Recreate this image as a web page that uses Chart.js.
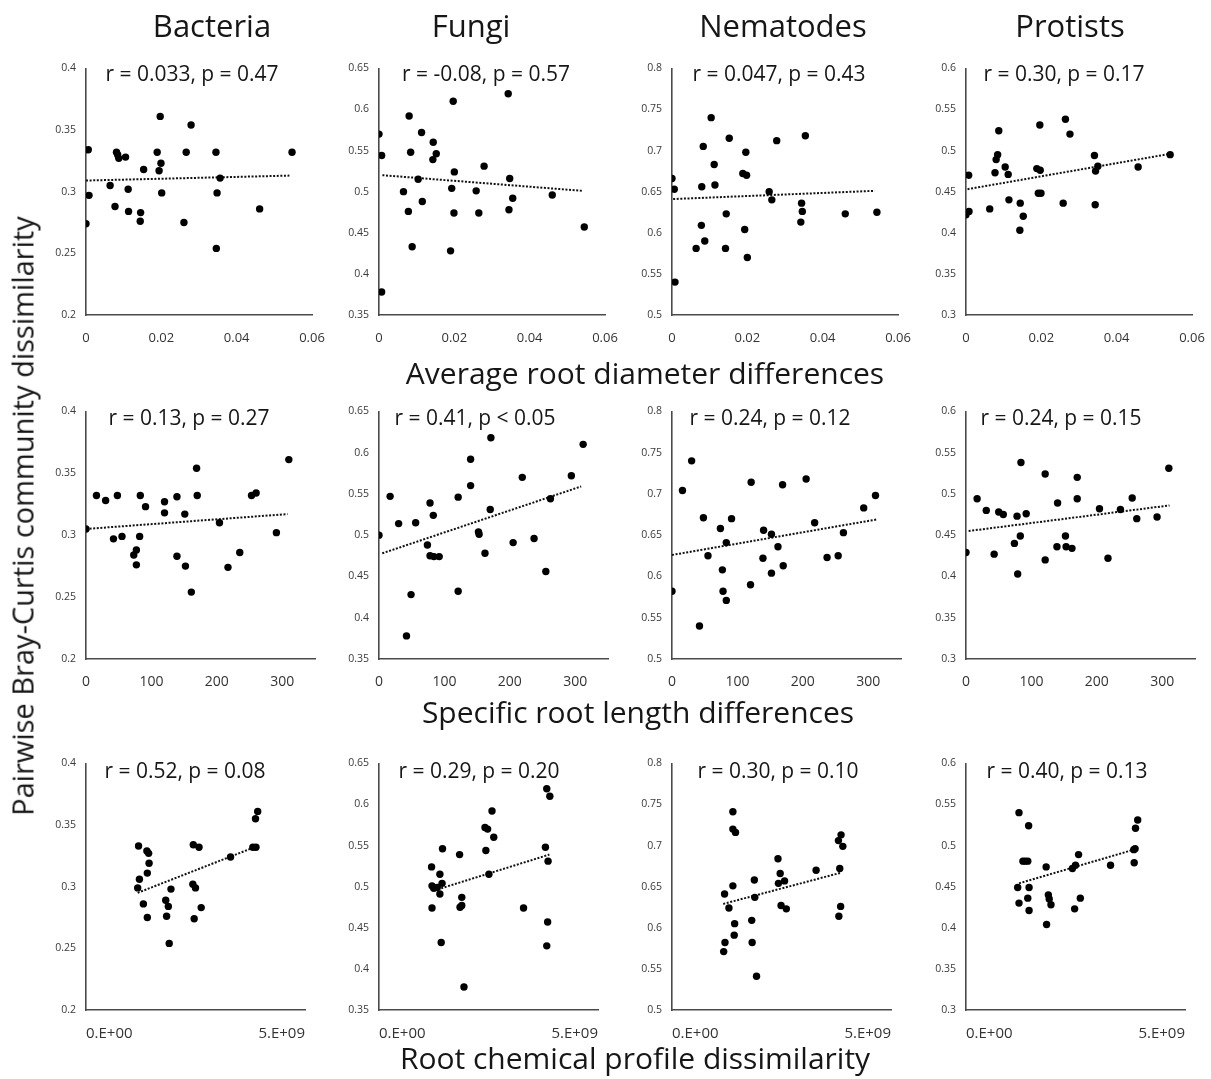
<!DOCTYPE html>
<html>
<head>
<meta charset="utf-8">
<title>Root traits vs community dissimilarity</title>
<script src="https://cdn.jsdelivr.net/npm/chart.js@4.4.1/dist/chart.umd.min.js"></script>
<style>
  body { margin: 0; background: #fff; }
  #fig { position: relative; width: 1211px; height: 1079px; overflow: hidden; font-family: "Open Sans", sans-serif; color: #161616; }
  #fig canvas { position: absolute; }
  .lbl { position: absolute; white-space: nowrap; transform: translate(-50%, -50%); line-height: 1; }
  .head { font-size: 31px; }
  .axis-title { font-size: 30px; }
  .stat { font-size: 21px; }
  .ylab { font-size: 29px; transform: translate(-50%, -50%) rotate(-90deg); }
</style>
</head>
<body>
<div id="fig"></div>
<script>
// organism groups (columns) and root traits (rows)
var groups = ["Bacteria", "Fungi", "Nematodes", "Protists"];
var traits = ["Average root diameter differences", "Specific root length differences", "Root chemical profile dissimilarity"];
var yTitle = "Pairwise Bray-Curtis community dissimilarity";

// y ticks per group
var bacteriaTicks = [0.2, 0.25, 0.3, 0.35, 0.4];
var fungiTicks = [0.35, 0.4, 0.45, 0.5, 0.55, 0.6, 0.65];
var nematodesTicks = [0.5, 0.55, 0.6, 0.65, 0.7, 0.75, 0.8];
var protistsTicks = [0.3, 0.35, 0.4, 0.45, 0.5, 0.55, 0.6];

// x ticks per trait
var diamTicks = [0, 0.02, 0.04, 0.06];
var diamTickLabels = ["0", "0.02", "0.04", "0.06"];
var srlTicks = [0, 100, 200, 300];
var srlTickLabels = ["0", "100", "200", "300"];
var chemTicks = [0, 5e9];
var chemTickLabels = ["0.E+00", "5.E+09"];

// average root diameter differences
var diamBacteriaX = [0.0006, 0.0008, 0, 0.0081, 0.0084, 0.0087, 0.0105, 0.0064, 0.0077, 0.0112, 0.0113, 0.0145, 0.0144, 0.0153, 0.0189, 0.0197, 0.0199, 0.0194, 0.0201, 0.0266, 0.0279, 0.026, 0.0345, 0.0356, 0.0348, 0.0346, 0.0461, 0.0547];
var diamBacteriaY = [0.334, 0.297, 0.274, 0.332, 0.330, 0.327, 0.328, 0.305, 0.288, 0.302, 0.284, 0.283, 0.276, 0.318, 0.332, 0.361, 0.323, 0.317, 0.299, 0.332, 0.354, 0.275, 0.332, 0.311, 0.299, 0.254, 0.286, 0.332];
var diamFungiX = [0, 0.0007, 0.0007, 0.008, 0.0113, 0.0084, 0.0144, 0.0152, 0.0143, 0.0104, 0.0065, 0.0115, 0.0078, 0.0088, 0.0197, 0.02, 0.0193, 0.0199, 0.019, 0.0279, 0.0258, 0.0265, 0.0343, 0.0347, 0.0355, 0.0345, 0.046, 0.0545];
var diamFungiY = [0.570, 0.544, 0.378, 0.592, 0.572, 0.548, 0.560, 0.546, 0.539, 0.515, 0.500, 0.488, 0.476, 0.433, 0.610, 0.524, 0.504, 0.474, 0.428, 0.531, 0.501, 0.474, 0.619, 0.516, 0.492, 0.478, 0.496, 0.457];
var diamNematodesX = [0, 0.0006, 0.0008, 0.0104, 0.0083, 0.0112, 0.0079, 0.0114, 0.0078, 0.0087, 0.0064, 0.0152, 0.0144, 0.0142, 0.0196, 0.0188, 0.0198, 0.0193, 0.02, 0.0278, 0.0258, 0.0265, 0.0354, 0.0344, 0.0346, 0.0342, 0.046, 0.0544];
var diamNematodesY = [0.666, 0.653, 0.540, 0.740, 0.705, 0.683, 0.656, 0.658, 0.609, 0.590, 0.581, 0.715, 0.623, 0.581, 0.698, 0.672, 0.670, 0.604, 0.570, 0.712, 0.650, 0.640, 0.718, 0.636, 0.626, 0.613, 0.623, 0.625];
var diamProtistsX = [0, 0.0008, 0.0007, 0.0063, 0.0087, 0.0084, 0.008, 0.0077, 0.0104, 0.0112, 0.0114, 0.0144, 0.0152, 0.0143, 0.0196, 0.0188, 0.0197, 0.0192, 0.0199, 0.0264, 0.0276, 0.0258, 0.0341, 0.035, 0.0344, 0.0343, 0.0457, 0.0542];
var diamProtistsY = [0.422, 0.426, 0.470, 0.429, 0.524, 0.495, 0.489, 0.473, 0.480, 0.471, 0.440, 0.436, 0.420, 0.403, 0.531, 0.478, 0.476, 0.448, 0.448, 0.538, 0.520, 0.436, 0.494, 0.481, 0.475, 0.434, 0.480, 0.495];
// trend line ends: x1, y1, x2, y2
var diamFits = [[0, 0.309, 0.054, 0.313], [0.0009, 0.520, 0.054, 0.501], [0.0003, 0.641, 0.0538, 0.651], [0.0004, 0.453, 0.0542, 0.496]];
var diamStats = ["r = 0.033, p = 0.47", "r = -0.08, p = 0.57", "r = 0.047, p = 0.43", "r = 0.30, p = 0.17"];

// specific root length differences
var srlBacteriaX = [0, 16, 30, 48, 42, 55, 83, 91, 82, 77, 73, 77, 120, 120, 139, 151, 139, 152, 161, 169, 170, 204, 217, 235, 253, 260, 291, 310];
var srlBacteriaY = [0.305, 0.332, 0.328, 0.332, 0.297, 0.299, 0.332, 0.323, 0.299, 0.288, 0.284, 0.276, 0.327, 0.318, 0.331, 0.317, 0.283, 0.275, 0.254, 0.354, 0.332, 0.310, 0.274, 0.286, 0.332, 0.334, 0.302, 0.361];
var srlFungiX = [0, 17, 30, 56, 49, 42, 78, 83, 74, 78, 84, 92, 121, 121, 140, 140, 152, 153, 162, 171, 170, 205, 219, 237, 255, 262, 294, 312];
var srlFungiY = [0.500, 0.547, 0.514, 0.515, 0.428, 0.378, 0.539, 0.524, 0.488, 0.475, 0.474, 0.474, 0.546, 0.432, 0.560, 0.592, 0.504, 0.501, 0.478, 0.618, 0.531, 0.491, 0.570, 0.496, 0.456, 0.544, 0.572, 0.610];
var srlNematodesX = [0, 16, 30, 48, 42, 55, 74, 83, 91, 77, 78, 83, 121, 120, 140, 139, 152, 152, 162, 169, 170, 205, 218, 237, 254, 262, 293, 311];
var srlNematodesY = [0.582, 0.704, 0.740, 0.671, 0.540, 0.625, 0.658, 0.641, 0.670, 0.608, 0.582, 0.571, 0.714, 0.590, 0.656, 0.622, 0.651, 0.604, 0.636, 0.711, 0.613, 0.718, 0.665, 0.623, 0.625, 0.653, 0.683, 0.698];
var srlProtistsX = [0, 17, 31, 50, 57, 43, 78, 92, 84, 83, 74, 79, 121, 121, 140, 139, 152, 153, 162, 170, 170, 204, 217, 236, 254, 261, 292, 310];
var srlProtistsY = [0.429, 0.494, 0.480, 0.478, 0.475, 0.427, 0.473, 0.476, 0.538, 0.449, 0.440, 0.403, 0.524, 0.420, 0.489, 0.436, 0.449, 0.436, 0.434, 0.520, 0.494, 0.482, 0.422, 0.481, 0.495, 0.470, 0.472, 0.531];
var srlFits = [[0, 0.305, 308, 0.317], [5, 0.478, 309, 0.559], [0, 0.626, 313, 0.669], [4, 0.455, 311, 0.486]];
var srlStats = ["r = 0.13, p = 0.27", "r = 0.41, p < 0.05", "r = 0.24, p = 0.12", "r = 0.24, p = 0.15"];

// root chemical profile dissimilarity
var chemBacteriaX = [1.20e9, 1.22e9, 1.18e9, 1.31e9, 1.40e9, 1.39e9, 1.43e9, 1.44e9, 1.40e9, 1.94e9, 1.82e9, 1.88e9, 1.84e9, 1.90e9, 2.45e9, 2.58e9, 2.44e9, 2.50e9, 2.63e9, 2.47e9, 3.30e9, 3.81e9, 3.88e9, 3.87e9, 3.92e9];
var chemBacteriaY = [0.333, 0.306, 0.299, 0.286, 0.275, 0.329, 0.327, 0.319, 0.311, 0.298, 0.289, 0.284, 0.276, 0.254, 0.334, 0.332, 0.302, 0.299, 0.283, 0.274, 0.324, 0.332, 0.332, 0.355, 0.361];
var chemFungiX = [1.20e9, 1.21e9, 1.25e9, 1.21e9, 1.39e9, 1.44e9, 1.39e9, 1.33e9, 1.45e9, 1.42e9, 1.84e9, 1.89e9, 1.85e9, 1.89e9, 1.94e9, 2.42e9, 2.48e9, 2.58e9, 2.62e9, 2.44e9, 2.51e9, 3.30e9, 3.83e9, 3.90e9, 3.80e9, 3.86e9, 3.85e9, 3.83e9];
var chemFungiY = [0.524, 0.501, 0.498, 0.474, 0.515, 0.504, 0.491, 0.499, 0.546, 0.432, 0.539, 0.487, 0.475, 0.477, 0.378, 0.572, 0.570, 0.592, 0.560, 0.544, 0.515, 0.474, 0.619, 0.610, 0.548, 0.531, 0.457, 0.428];
var chemNematodesX = [1.20e9, 1.30e9, 1.43e9, 1.42e9, 1.21e9, 1.18e9, 1.39e9, 1.39e9, 1.45e9, 1.39e9, 1.88e9, 1.89e9, 1.82e9, 1.83e9, 1.93e9, 2.42e9, 2.47e9, 2.43e9, 2.57e9, 2.49e9, 2.61e9, 3.29e9, 3.86e9, 3.80e9, 3.90e9, 3.83e9, 3.85e9, 3.81e9];
var chemNematodesY = [0.641, 0.624, 0.605, 0.591, 0.582, 0.571, 0.741, 0.720, 0.716, 0.651, 0.658, 0.637, 0.609, 0.582, 0.541, 0.684, 0.666, 0.654, 0.657, 0.627, 0.623, 0.670, 0.713, 0.706, 0.699, 0.672, 0.626, 0.614];
var chemProtistsX = [1.21e9, 1.43e9, 1.30e9, 1.41e9, 1.35e9, 1.18e9, 1.44e9, 1.21e9, 1.41e9, 1.44e9, 1.83e9, 1.88e9, 1.90e9, 1.94e9, 1.84e9, 2.43e9, 2.50e9, 2.57e9, 2.48e9, 2.61e9, 3.30e9, 3.83e9, 3.86e9, 3.87e9, 3.92e9, 3.84e9];
var chemProtistsY = [0.540, 0.524, 0.481, 0.481, 0.481, 0.449, 0.449, 0.430, 0.436, 0.421, 0.474, 0.440, 0.435, 0.428, 0.404, 0.472, 0.476, 0.489, 0.423, 0.436, 0.476, 0.495, 0.496, 0.521, 0.531, 0.479];
var chemFits = [[1.18e9, 0.295, 3.85e9, 0.332], [1.42e9, 0.498, 3.89e9, 0.539], [1.17e9, 0.629, 3.86e9, 0.667], [1.21e9, 0.454, 3.83e9, 0.495]];
var chemStats = ["r = 0.52, p = 0.08", "r = 0.29, p = 0.20", "r = 0.30, p = 0.10", "r = 0.40, p = 0.13"];

var yTicks = [bacteriaTicks, fungiTicks, nematodesTicks, protistsTicks];
var rows = [
  { xs: [diamBacteriaX, diamFungiX, diamNematodesX, diamProtistsX],
    ys: [diamBacteriaY, diamFungiY, diamNematodesY, diamProtistsY],
    fits: diamFits, stats: diamStats, ticks: diamTicks, tickLabels: diamTickLabels, max: 0.06 },
  { xs: [srlBacteriaX, srlFungiX, srlNematodesX, srlProtistsX],
    ys: [srlBacteriaY, srlFungiY, srlNematodesY, srlProtistsY],
    fits: srlFits, stats: srlStats, ticks: srlTicks, tickLabels: srlTickLabels, max: 350 },
  { xs: [chemBacteriaX, chemFungiX, chemNematodesX, chemProtistsX],
    ys: [chemBacteriaY, chemFungiY, chemNematodesY, chemProtistsY],
    fits: chemFits, stats: chemStats, ticks: chemTicks, tickLabels: chemTickLabels, max: 5e9 }
];

// page layout
var colLeft = [86, 379, 672, 966];
var rowLayout = [
  { top: 66, height: 249, width: 226, tickSize: 13, align: "center", titleY: 373, statY: 73 },
  { top: 409, height: 250, width: 229, tickSize: 14, align: "center", titleY: 712, statY: 417 },
  { top: 761, height: 249, width: 219, tickSize: 15, align: "inner", titleY: 1058, statY: 770 }
];
var statX = [[192, 486, 779, 1064], [189, 475, 770, 1061], [185, 479, 778, 1067]];
var headX = [212, 471, 783, 1070];
var traitX = [645, 638, 635];

Chart.defaults.font.family = '"Open Sans", sans-serif';

var fig = document.getElementById("fig");

function addText(cls, text, x, y) {
  var d = document.createElement("div");
  d.className = "lbl " + cls;
  d.textContent = text;
  d.style.left = x + "px";
  d.style.top = y + "px";
  fig.appendChild(d);
}

function addPanel(r, c) {
  var row = rows[r], lay = rowLayout[r], yt = yTicks[c], fit = row.fits[c];
  var padL = 60, padT = 14, padR = 34, padB = 46;

  var canvas = document.createElement("canvas");
  canvas.width = padL + lay.width + padR;
  canvas.height = padT + lay.height + padB;
  canvas.style.left = (colLeft[c] - padL) + "px";
  canvas.style.top = (lay.top - padT) + "px";
  fig.appendChild(canvas);

  var pts = row.xs[c].map(function (x, i) {
    return { x: x, y: row.ys[c][i] };
  });

  new Chart(canvas, {
    type: "scatter",
    data: {
      datasets: [
        {
          data: pts,
          backgroundColor: "#000",
          borderWidth: 0,
          pointRadius: 3.7,
          pointHoverRadius: 3.7,
        },
        {
          data: [{ x: fit[0], y: fit[1] }, { x: fit[2], y: fit[3] }],
          showLine: true,
          pointRadius: 0,
          borderColor: "#111",
          borderWidth: 2,
          borderDash: [2, 1.6],
        },
      ],
    },
    options: {
      responsive: false,
      animation: false,
      events: [],
      layout: { padding: { top: padT, right: padR, bottom: 0, left: 0 } },
      plugins: { legend: { display: false }, tooltip: { enabled: false } },
      scales: {
        x: {
          type: "linear",
          min: 0,
          max: row.max,
          afterBuildTicks: function (s) {
            s.ticks = row.ticks.map(function (v) { return { value: v }; });
          },
          afterFit: function (s) { s.height = padB; },
          grid: { display: false, drawTicks: false },
          border: { color: "#4a4a4a", width: 1.6 },
          ticks: {
            padding: 15,
            color: "#333",
            font: { size: lay.tickSize },
            align: lay.align,
            maxRotation: 0,
            autoSkip: false,
            callback: function (v, i) { return row.tickLabels[i]; },
          },
        },
        y: {
          min: yt[0],
          max: yt[yt.length - 1],
          afterBuildTicks: function (s) {
            s.ticks = yt.map(function (v) { return { value: v }; });
          },
          afterFit: function (s) { s.width = padL; },
          grid: { display: false, drawTicks: false },
          border: { color: "#4a4a4a", width: 1.6 },
          ticks: {
            padding: 10,
            color: "#3a3a3a",
            font: { size: 10.5 },
            autoSkip: false,
            callback: function (v) { return String(+v.toFixed(2)); },
          },
        },
      },
    },
  });

  addText("stat", row.stats[c], statX[r][c], lay.statY);
}

for (var r = 0; r < rows.length; r++) {
  for (var c = 0; c < groups.length; c++) {
    addPanel(r, c);
  }
  addText("axis-title", traits[r], traitX[r], rowLayout[r].titleY);
}

groups.forEach(function (g, c) {
  addText("head", g, headX[c], 25);
});
addText("ylab", yTitle, 22, 516);
</script>
</body>
</html>
